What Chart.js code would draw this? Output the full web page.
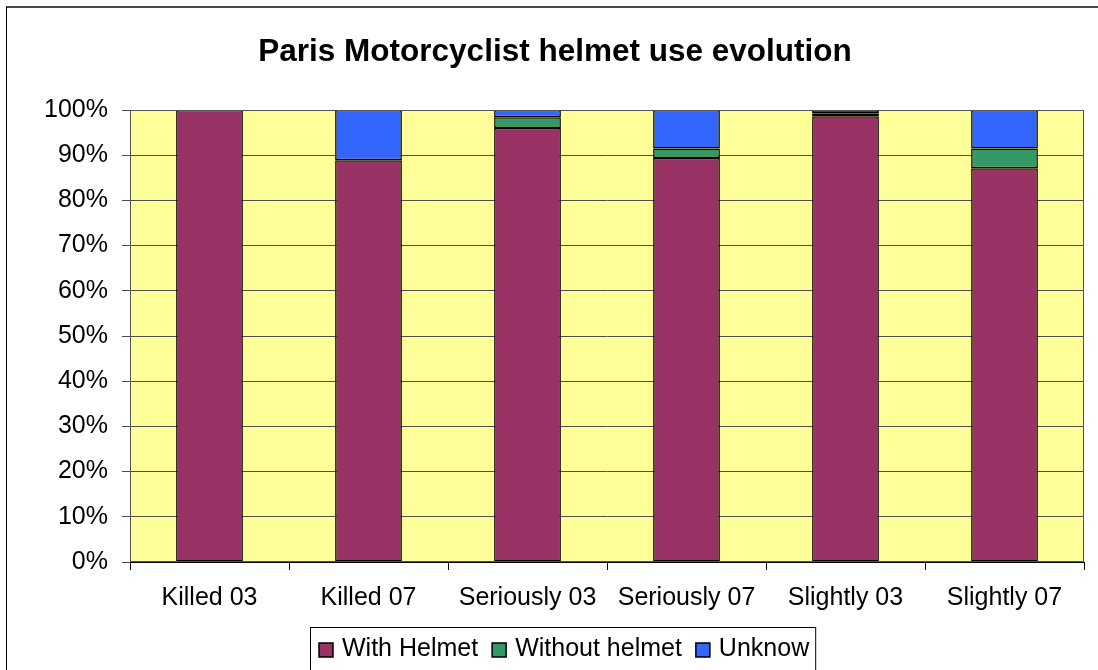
<!DOCTYPE html>
<html>
<head>
<meta charset="utf-8">
<title>Paris Motorcyclist helmet use evolution</title>
<script src="https://cdn.jsdelivr.net/npm/chart.js@4.4.1/dist/chart.umd.min.js"></script>
<style>
  html, body { margin: 0; padding: 0; background: #fff; }
  #wrap { width: 1098px; height: 670px; }
</style>
</head>
<body>
<div id="wrap"><canvas id="helmetChart" width="1098" height="670"></canvas></div>
<script>
// categories and shares (%) per helmet status
const categories = ['Killed 03', 'Killed 07', 'Seriously 03', 'Seriously 07', 'Slightly 03', 'Slightly 07'];
const withHelmet = [100, 88.9, 96.0, 89.4, 98.6, 87.1];
const withoutHelmet = [0, 0, 2.4, 2.1, 0.7, 4.4];
const unknowShare = [0, 11.1, 1.6, 8.5, 0.7, 8.5];
const yTicks = [0, 10, 20, 30, 40, 50, 60, 70, 80, 90, 100];

const FONT = "'Liberation Sans', Arial, sans-serif";
const LABEL_SIZE = 25;

// white page, outer frame and yellow plot area
const backdrop = {
  id: 'backdrop',
  beforeDraw(chart) {
    const ctx = chart.ctx;
    const a = chart.chartArea;
    ctx.save();
    ctx.fillStyle = '#ffffff';
    ctx.fillRect(0, 0, chart.width, chart.height);
    // frame
    ctx.strokeStyle = '#4a4a4a';
    ctx.lineWidth = 2;
    ctx.beginPath();
    ctx.moveTo(6, 7);
    ctx.lineTo(chart.width + 2, 7);
    ctx.stroke();
    ctx.strokeStyle = '#000000';
    ctx.lineWidth = 1;
    ctx.beginPath();
    ctx.moveTo(6.5, 7);
    ctx.lineTo(6.5, chart.height + 2);
    ctx.stroke();
    // plot area
    ctx.fillStyle = '#FFFF99';
    ctx.fillRect(a.left, a.top, a.right - a.left, a.bottom - a.top);
    ctx.restore();
  },
  afterDatasetsDraw(chart) {
    const ctx = chart.ctx;
    const a = chart.chartArea;
    ctx.save();
    ctx.strokeStyle = '#555555';
    ctx.lineWidth = 1;
    ctx.strokeRect(Math.round(a.left) + 0.5, Math.round(a.top) + 0.5,
      Math.round(a.right - a.left) - 1, Math.round(a.bottom - a.top) - 1);
    ctx.restore();
  }
};

// boxed legend under the axis
const boxLegend = {
  id: 'boxLegend',
  afterDraw(chart) {
    const ctx = chart.ctx;
    const left = 310, top = 627;
    ctx.save();
    ctx.font = LABEL_SIZE + 'px ' + FONT;
    ctx.textBaseline = 'middle';
    let x = left + 9;
    const items = chart.data.datasets.map(ds => {
      const it = { x: x, label: ds.label, color: ds.backgroundColor };
      x += 14 + 9 + ctx.measureText(ds.label).width + 14;
      return it;
    });
    const right = x - 14 + 6;
    ctx.fillStyle = '#ffffff';
    ctx.fillRect(left, top, right - left, 60);
    ctx.strokeStyle = '#000000';
    ctx.lineWidth = 1;
    ctx.strokeRect(left + 0.5, top + 0.5, right - left, 60);
    items.forEach(it => {
      ctx.fillStyle = it.color;
      ctx.fillRect(it.x, 643, 14, 14);
      ctx.strokeStyle = '#000000';
      ctx.lineWidth = 1.5;
      ctx.strokeRect(it.x, 643, 14, 14);
      ctx.fillStyle = '#000000';
      ctx.fillText(it.label, it.x + 23, 649);
    });
    ctx.restore();
  }
};

const ctx = document.getElementById('helmetChart');
new Chart(ctx, {
  type: 'bar',
  data: {
    labels: categories,
    datasets: [
      { label: 'With Helmet', data: withHelmet, backgroundColor: '#993366' },
      { label: 'Without helmet', data: withoutHelmet, backgroundColor: '#339966' },
      { label: 'Unknow', data: unknowShare, backgroundColor: '#3366FF' }
    ].map(ds => Object.assign(ds, {
      borderColor: '#000000',
      borderWidth: 1.5,
      borderSkipped: false,
      barPercentage: 0.42,
      categoryPercentage: 1
    }))
  },
  plugins: [backdrop, boxLegend],
  options: {
    responsive: false,
    animation: false,
    events: [],
    layout: { padding: { left: 26, right: 14, top: 0, bottom: 0 } },
    plugins: {
      legend: { display: false },
      tooltip: { enabled: false },
      title: {
        display: true,
        text: 'Paris Motorcyclist helmet use evolution',
        color: '#000000',
        font: { family: FONT, size: 31.5, weight: 'bold', lineHeight: 1.2 },
        padding: { top: 33, bottom: 39.2 }
      }
    },
    scales: {
      x: {
        stacked: true,
        offset: true,
        afterFit(scale) { scale.height = 108; },
        grid: {
          offset: true,
          drawOnChartArea: false,
          drawTicks: true,
          tickLength: 8,
          color: '#000000'
        },
        border: { display: true, color: '#000000', width: 1 },
        ticks: {
          color: '#000000',
          padding: 13,
          maxRotation: 0,
          autoSkip: false,
          font: { family: FONT, size: LABEL_SIZE }
        }
      },
      y: {
        stacked: true,
        min: 0,
        max: 100,
        afterFit(scale) { scale.width = 104; },
        afterBuildTicks(scale) { scale.ticks = yTicks.map(v => ({ value: v })); },
        grid: {
          color: '#4d4d4d',
          lineWidth: 1,
          drawTicks: true,
          tickLength: 8,
          tickColor: '#4d4d4d'
        },
        border: { display: true, color: '#000000', width: 1 },
        ticks: {
          color: '#000000',
          padding: 14,
          font: { family: FONT, size: LABEL_SIZE },
          callback: v => v + '%'
        }
      }
    }
  }
});
</script>
</body>
</html>
